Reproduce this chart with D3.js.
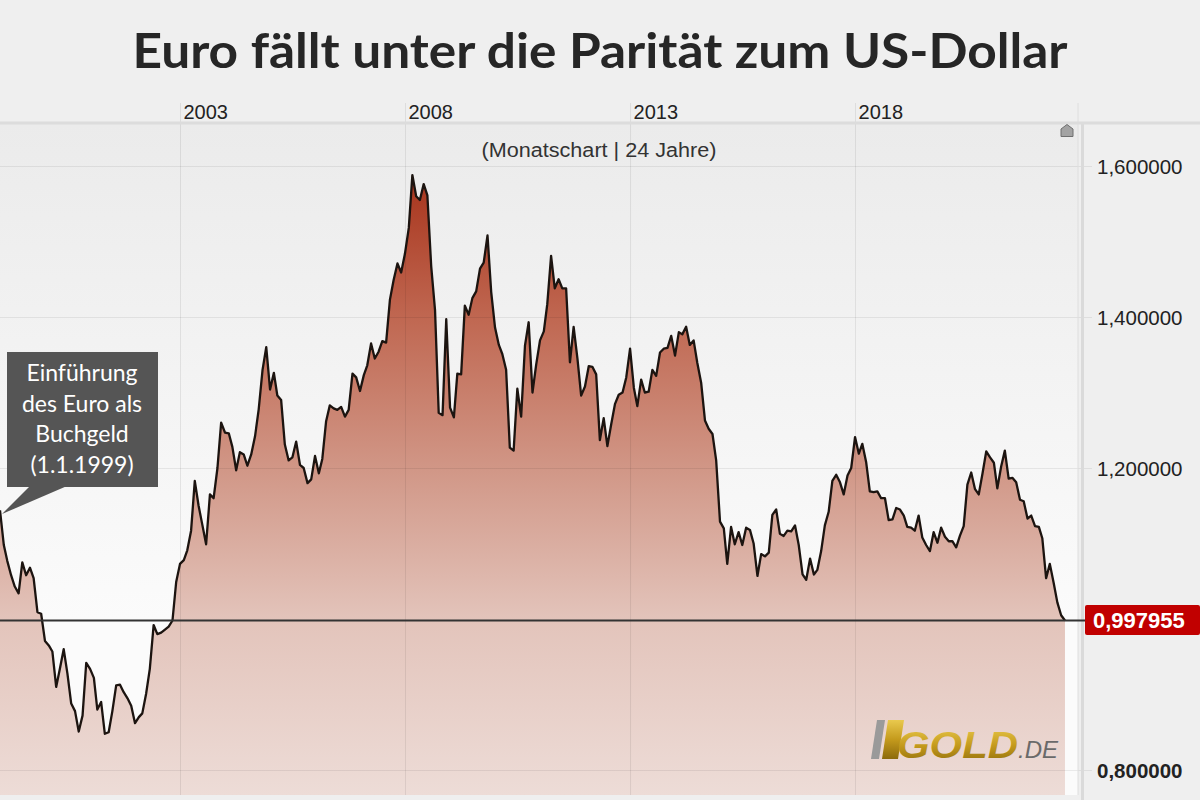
<!DOCTYPE html>
<html>
<head>
<meta charset="utf-8">
<script src="https://cdn.jsdelivr.net/npm/d3@7"></script>
<style>
  body { margin: 0; background: #efefef; }
  svg { display: block; }
</style>
</head>
<body>
<div id="chart"></div>
<script>
// EUR/USD Monatsschlusskurse, Jan 1999 - Sep 2022
var v1999 = [1.144, 1.098, 1.077, 1.058, 1.043, 1.034, 1.075, 1.058, 1.068, 1.054, 1.009, 1.007];
var v2000 = [0.971, 0.965, 0.957, 0.910, 0.934, 0.960, 0.928, 0.888, 0.878, 0.851, 0.872, 0.942];
var v2001 = [0.934, 0.922, 0.880, 0.890, 0.848, 0.850, 0.878, 0.912, 0.913, 0.903, 0.895, 0.885];
var v2002 = [0.862, 0.870, 0.875, 0.901, 0.934, 0.992, 0.980, 0.982, 0.986, 0.990, 0.998, 1.049];
var v2003 = [1.073, 1.078, 1.091, 1.117, 1.183, 1.150, 1.125, 1.099, 1.165, 1.160, 1.200, 1.260];
var v2004 = [1.247, 1.246, 1.228, 1.197, 1.221, 1.218, 1.203, 1.218, 1.242, 1.278, 1.330, 1.360];
var v2005 = [1.304, 1.326, 1.296, 1.290, 1.231, 1.210, 1.214, 1.235, 1.204, 1.200, 1.180, 1.185];
var v2006 = [1.216, 1.193, 1.212, 1.262, 1.283, 1.279, 1.277, 1.281, 1.268, 1.277, 1.325, 1.320];
var v2007 = [1.302, 1.323, 1.336, 1.365, 1.345, 1.354, 1.368, 1.366, 1.423, 1.449, 1.471, 1.459];
var v2008 = [1.484, 1.518, 1.588, 1.560, 1.555, 1.576, 1.561, 1.467, 1.409, 1.273, 1.270, 1.397];
var v2009 = [1.280, 1.267, 1.325, 1.324, 1.415, 1.403, 1.425, 1.434, 1.464, 1.472, 1.508, 1.433];
var v2010 = [1.386, 1.363, 1.351, 1.330, 1.227, 1.223, 1.305, 1.268, 1.362, 1.393, 1.300, 1.337];
var v2011 = [1.369, 1.381, 1.417, 1.481, 1.438, 1.450, 1.438, 1.438, 1.340, 1.387, 1.345, 1.296];
var v2012 = [1.308, 1.335, 1.334, 1.324, 1.237, 1.266, 1.229, 1.258, 1.285, 1.297, 1.300, 1.320];
var v2013 = [1.358, 1.306, 1.282, 1.317, 1.300, 1.301, 1.330, 1.322, 1.353, 1.358, 1.359, 1.375];
var v2014 = [1.349, 1.380, 1.377, 1.387, 1.363, 1.369, 1.339, 1.313, 1.263, 1.252, 1.245, 1.210];
var v2015 = [1.129, 1.120, 1.073, 1.122, 1.099, 1.115, 1.098, 1.121, 1.118, 1.100, 1.057, 1.086];
var v2016 = [1.083, 1.088, 1.138, 1.145, 1.113, 1.110, 1.117, 1.116, 1.124, 1.098, 1.059, 1.052];
var v2017 = [1.080, 1.059, 1.065, 1.090, 1.124, 1.142, 1.183, 1.191, 1.181, 1.165, 1.190, 1.200];
var v2018 = [1.241, 1.219, 1.232, 1.208, 1.169, 1.168, 1.169, 1.160, 1.160, 1.131, 1.132, 1.147];
var v2019 = [1.145, 1.137, 1.122, 1.121, 1.117, 1.137, 1.108, 1.098, 1.090, 1.115, 1.101, 1.121];
var v2020 = [1.109, 1.103, 1.103, 1.095, 1.110, 1.123, 1.178, 1.194, 1.172, 1.165, 1.193, 1.222];
var v2021 = [1.214, 1.207, 1.173, 1.202, 1.223, 1.186, 1.187, 1.181, 1.158, 1.156, 1.133, 1.137];
var v2022 = [1.123, 1.122, 1.107, 1.054, 1.073, 1.048, 1.022, 1.005, 0.997955];

var yearTicks = [2003, 2008, 2013, 2018];
var valueTicks = [0.8, 1.2, 1.4, 1.6];
var calloutLines = ["Einführung", "des Euro als", "Buchgeld", "(1.1.1999)"];

var svgWidth = 1200;
var svgHeight = 800;

var plot = { left: 0, right: 1078, top: 124, bottom: 795 };

var svg = d3.select("#chart")
  .append("svg")
  .attr("width", svgWidth)
  .attr("height", svgHeight);

// build data
var startDate = new Date(1999, 0, 1);
var allValues = [].concat(v1999, v2000, v2001, v2002, v2003, v2004, v2005, v2006,
  v2007, v2008, v2009, v2010, v2011, v2012, v2013, v2014, v2015, v2016,
  v2017, v2018, v2019, v2020, v2021, v2022);
var data = allValues.map(function(v, i) {
  return { date: d3.timeMonth.offset(startDate, i), value: v };
});
var lastValue = allValues[allValues.length - 1];

// scales
var x = d3.scaleTime()
  .domain([new Date(1999, 0, 1), new Date(2023, 0, 1)])
  .range([0, 1080]);

var y = d3.scaleLinear()
  .domain([0.8, 1.6])
  .range([770, 166]);

var defs = svg.append("defs");

var bgGrad = defs.append("linearGradient")
  .attr("id", "bgGrad")
  .attr("gradientUnits", "userSpaceOnUse")
  .attr("x1", 0).attr("y1", plot.top).attr("x2", 0).attr("y2", 620);
bgGrad.append("stop").attr("offset", "0%").attr("stop-color", "#ebebeb");
bgGrad.append("stop").attr("offset", "100%").attr("stop-color", "#fbfbfb");

var areaGrad = defs.append("linearGradient")
  .attr("id", "areaGrad")
  .attr("gradientUnits", "userSpaceOnUse")
  .attr("x1", 0).attr("y1", 170).attr("x2", 0).attr("y2", 795);
areaGrad.append("stop").attr("offset", "0%").attr("stop-color", "#a7321a");
areaGrad.append("stop").attr("offset", "24%").attr("stop-color", "#c06852");
areaGrad.append("stop").attr("offset", "48%").attr("stop-color", "#d19787");
areaGrad.append("stop").attr("offset", "72%").attr("stop-color", "#e3c4bb");
areaGrad.append("stop").attr("offset", "100%").attr("stop-color", "#eddcd7");

var goldGrad = defs.append("linearGradient")
  .attr("id", "goldGrad")
  .attr("x1", 0).attr("y1", 0).attr("x2", 0).attr("y2", 1);
goldGrad.append("stop").attr("offset", "0%").attr("stop-color", "#e9c94e");
goldGrad.append("stop").attr("offset", "50%").attr("stop-color", "#c49a1c");
goldGrad.append("stop").attr("offset", "100%").attr("stop-color", "#8c6a0c");

defs.append("clipPath").attr("id", "plotClip")
  .append("rect")
  .attr("x", plot.left).attr("y", plot.top)
  .attr("width", plot.right - plot.left).attr("height", plot.bottom - plot.top);

// background
svg.append("rect")
  .attr("width", svgWidth).attr("height", svgHeight)
  .attr("fill", "#efefef");

svg.append("rect")
  .attr("x", plot.left).attr("y", plot.top)
  .attr("width", plot.right - plot.left).attr("height", plot.bottom - plot.top)
  .attr("fill", "url(#bgGrad)");

var chartGroup = svg.append("g").attr("clip-path", "url(#plotClip)");

// area + line
var area = d3.area()
  .x(d => x(d.date))
  .y0(plot.bottom)
  .y1(d => y(d.value));

var line = d3.line()
  .x(d => x(d.date))
  .y(d => y(d.value));

chartGroup.append("path")
  .datum(data)
  .attr("d", area)
  .attr("fill", "url(#areaGrad)");

// grid: value lines
var yAxis = d3.axisRight(y)
  .tickValues(valueTicks)
  .tickSize(1092)
  .tickFormat(d => d3.format(".6f")(d).replace(".", ","));

var yAxisGroup = svg.append("g")
  .call(yAxis);
yAxisGroup.select(".domain").remove();
yAxisGroup.selectAll("line")
  .attr("stroke", "#000")
  .attr("stroke-opacity", 0.07);
yAxisGroup.selectAll("text")
  .attr("x", 1097)
  .attr("dy", "0.36em")
  .attr("fill", "#222")
  .style("font-family", "'Liberation Sans', Arial, sans-serif")
  .style("font-size", "20.5px")
  .style("font-weight", d => d === 0.8 ? "bold" : "normal");

// grid: years along the top
var xAxis = d3.axisBottom(x)
  .tickValues(yearTicks.map(yr => new Date(yr, 0, 1)))
  .tickSize(plot.bottom - 103)
  .tickFormat(d3.timeFormat("%Y"));

var xAxisGroup = svg.append("g")
  .attr("transform", "translate(0,103)")
  .call(xAxis);
xAxisGroup.select(".domain").remove();
xAxisGroup.selectAll("line")
  .attr("stroke", "#000")
  .attr("stroke-opacity", 0.08);
xAxisGroup.selectAll("text")
  .attr("x", 3)
  .attr("y", 9)
  .attr("dy", "0.36em")
  .attr("text-anchor", "start")
  .attr("fill", "#222")
  .style("font-family", "'Liberation Sans', Arial, sans-serif")
  .style("font-size", "20px");

chartGroup.append("path")
  .datum(data)
  .attr("d", line)
  .attr("fill", "none")
  .attr("stroke", "#1c1410")
  .attr("stroke-width", 2.3)
  .attr("stroke-linejoin", "round");

// right edge + top band separators
svg.append("line")
  .attr("x1", plot.right).attr("x2", plot.right)
  .attr("y1", 103).attr("y2", plot.bottom)
  .attr("stroke", "#dedede").attr("stroke-width", 1);
svg.append("line")
  .attr("x1", 1082.5).attr("x2", 1082.5)
  .attr("y1", plot.top).attr("y2", svgHeight)
  .attr("stroke", "#dadada").attr("stroke-width", 3);
svg.append("line")
  .attr("x1", 0).attr("x2", svgWidth)
  .attr("y1", 123).attr("y2", 123)
  .attr("stroke", "#dcdcdc").attr("stroke-width", 3);

// current value line + label
svg.append("line")
  .attr("x1", 0).attr("x2", 1086)
  .attr("y1", y(lastValue)).attr("y2", y(lastValue))
  .attr("stroke", "#333").attr("stroke-width", 2);

svg.append("rect")
  .attr("x", 1085).attr("y", y(lastValue) - 15.5)
  .attr("width", 115).attr("height", 30)
  .attr("rx", 2)
  .attr("fill", "#c10000");
svg.append("text")
  .attr("x", 1093).attr("y", y(lastValue) - 0.5)
  .attr("dy", "0.36em")
  .attr("fill", "#fff")
  .style("font-family", "'Liberation Sans', Arial, sans-serif")
  .style("font-size", "22px")
  .style("font-weight", "bold")
  .text(d3.format(".6f")(lastValue).replace(".", ","));

// small home icon
svg.append("path")
  .attr("d", "M1061,136.5 L1061,129 L1067,124.5 L1073,129 L1073,136.5 Z")
  .attr("fill", "#a3a3a3")
  .attr("stroke", "#6f6f6f")
  .attr("stroke-width", 1);

// subtitle
svg.append("text")
  .attr("x", 599).attr("y", 157)
  .attr("text-anchor", "middle")
  .attr("fill", "#333")
  .attr("textLength", 235)
  .attr("lengthAdjust", "spacingAndGlyphs")
  .style("font-family", "'Liberation Sans', Arial, sans-serif")
  .style("font-size", "20px")
  .text("(Monatschart | 24 Jahre)");

// title
svg.append("text")
  .attr("x", 600).attr("y", 68)
  .attr("text-anchor", "middle")
  .attr("fill", "#262626")
  .attr("textLength", 935)
  .attr("lengthAdjust", "spacingAndGlyphs")
  .style("font-family", "Lato, 'Open Sans', sans-serif")
  .style("font-size", "48px")
  .style("font-weight", "bold")
  .text("Euro fällt unter die Parität zum US-Dollar");

// callout box
var callout = svg.append("g");
callout.append("path")
  .attr("d", "M30,486 L67,486 L2,514 Z")
  .attr("fill", "#555");
callout.append("rect")
  .attr("x", 7).attr("y", 352)
  .attr("width", 151).attr("height", 135)
  .attr("fill", "#555");
callout.selectAll("text")
  .data(calloutLines)
  .enter()
  .append("text")
  .attr("x", 82)
  .attr("y", (d, i) => 381 + i * 30.5)
  .attr("text-anchor", "middle")
  .attr("fill", "#fff")
  .style("font-family", "Lato, 'Open Sans', sans-serif")
  .style("font-size", "23px")
  .text(d => d);

// GOLD.DE logo
var logo = svg.append("g");
logo.append("path")
  .attr("d", "M871,759 L877,720 L885,720 L879,759 Z")
  .attr("fill", "#9a9a9a");
logo.append("path")
  .attr("d", "M882,759 L888,720 L904,720 L898,759 Z")
  .attr("fill", "url(#goldGrad)");
logo.append("text")
  .attr("x", 897).attr("y", 758)
  .attr("textLength", 121)
  .attr("lengthAdjust", "spacingAndGlyphs")
  .attr("fill", "url(#goldGrad)")
  .style("font-family", "'Liberation Sans', Arial, sans-serif")
  .style("font-size", "37px")
  .style("font-weight", "bold")
  .style("font-style", "italic")
  .text("GOLD");
logo.append("text")
  .attr("x", 1018).attr("y", 758)
  .attr("fill", "#6a6a6a")
  .style("font-family", "'Liberation Sans', Arial, sans-serif")
  .style("font-size", "24px")
  .style("font-style", "italic")
  .text(".DE");
</script>
</body>
</html>
